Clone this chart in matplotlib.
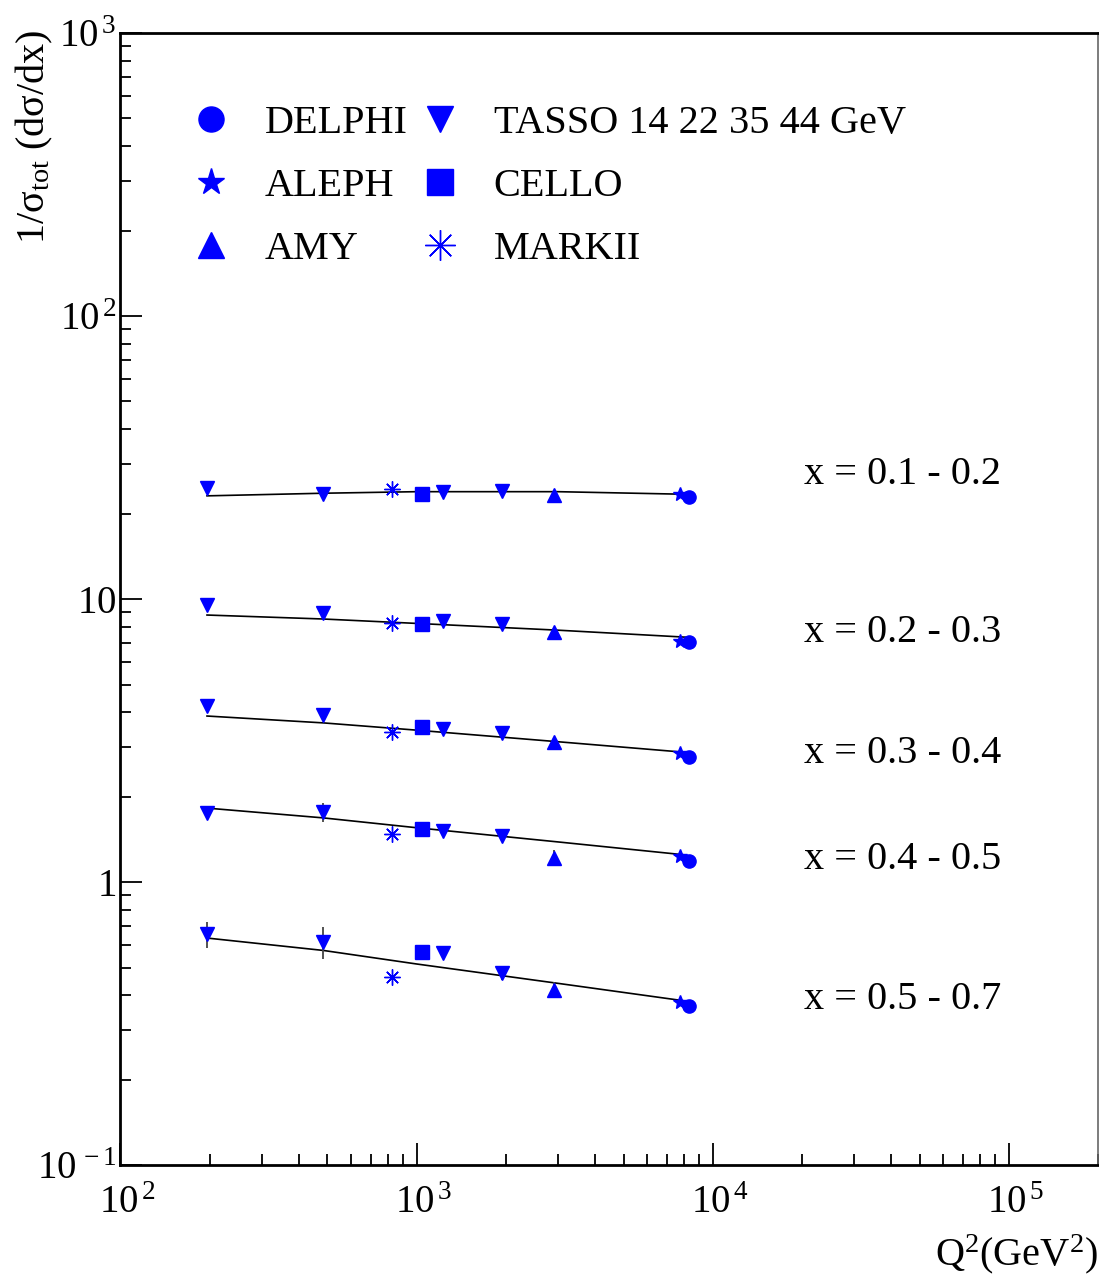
import numpy as np
import matplotlib.pyplot as plt
from matplotlib.ticker import FuncFormatter, LogLocator, NullFormatter

plt.rcParams['font.family'] = ['Liberation Serif', 'DejaVu Serif']
plt.rcParams['mathtext.fontset'] = 'custom'
plt.rcParams['mathtext.rm'] = 'Liberation Serif'
plt.rcParams['mathtext.it'] = 'Liberation Serif:italic'

# --- Data ---
experiments = ['DELPHI', 'ALEPH', 'AMY', 'TASSO 14 22 35 44 GeV', 'CELLO', 'MARKII']
bin_labels = ['x = 0.1 - 0.2', 'x = 0.2 - 0.3', 'x = 0.3 - 0.4', 'x = 0.4 - 0.5', 'x = 0.5 - 0.7']
label_y = [27.5, 7.66, 2.86, 1.20, 0.387]

q2_delphi = [8300]
q2_aleph  = [7730]
q2_amy    = [2920]
q2_tasso  = [196, 484, 1225, 1936]
q2_cello  = [1040]
q2_markii = [824]

# one row per x bin
delphi = [[23.0], [7.06], [2.77], [1.19], [0.366]]
aleph  = [[23.5], [7.11], [2.86], [1.24], [0.378]]
amy    = [[23.3], [7.66], [3.13], [1.22], [0.417]]
tasso  = [[24.7, 23.5, 23.9, 24.1],
          [9.54, 8.94, 8.38, 8.18],
          [4.20, 3.90, 3.48, 3.37],
          [1.76, 1.77, 1.52, 1.46],
          [0.657, 0.616, 0.562, 0.478]]
cello  = [[23.5], [8.18], [3.54], [1.54], [0.567]]
markii = [[24.5], [8.25], [3.40], [1.48], [0.463]]

# error bars (only where visible)
tasso_err = [[0, 0, 0, 0],
             [0, 0, 0, 0],
             [0, 0.05, 0, 0],
             [0.05, 0.13, 0, 0],
             [0.07, 0.08, 0, 0.025]]
amy_err = [[0], [0], [0], [0.08], [0.028]]

# fitted curves
fit_q2 = [196, 484, 1000, 3000, 8100]
fit_y = [[23.2, 23.7, 24.0, 24.0, 23.5],
         [8.80, 8.52, 8.22, 7.78, 7.35],
         [3.87, 3.66, 3.45, 3.14, 2.88],
         [1.83, 1.69, 1.56, 1.39, 1.25],
         [0.636, 0.575, 0.515, 0.440, 0.381]]

blue = '#0000ff'

fig = plt.figure(figsize=(10.99, 12.75), dpi=100)
ax = fig.add_axes([0.1096, 0.0859, 0.8894, 0.8881])
ax.set_xscale('log')
ax.set_yscale('log')
ax.set_xlim(100, 2e5)
ax.set_ylim(0.1, 1000)

ms = 9.5
for i in range(len(bin_labels)):
    first = (i == 0)
    ax.plot(fit_q2, fit_y[i], color='black', lw=1.2, zorder=2)
    ax.errorbar(q2_tasso, tasso[i], yerr=tasso_err[i], fmt='none',
                ecolor='#444444', elinewidth=1.3, capsize=0, zorder=2.5)
    ax.errorbar(q2_amy, amy[i], yerr=amy_err[i], fmt='none',
                ecolor='#444444', elinewidth=1.3, capsize=0, zorder=2.5)
    ax.plot(q2_tasso, tasso[i], 'v', color=blue, ms=ms, zorder=3,
            label=experiments[3] if first else None)
    ax.plot(q2_amy, amy[i], '^', color=blue, ms=ms, zorder=3,
            label=experiments[2] if first else None)
    ax.plot(q2_cello, cello[i], 's', color=blue, ms=ms, zorder=3,
            label=experiments[4] if first else None)
    ax.plot(q2_markii, markii[i], marker=(8, 2, 0), ls='none', color=blue, ms=ms + 2,
            mew=1.0, zorder=3, label=experiments[5] if first else None)
    ax.plot(q2_aleph, aleph[i], '*', color=blue, ms=ms + 1, zorder=3,
            label=experiments[1] if first else None)
    ax.plot(q2_delphi, delphi[i], 'o', color=blue, ms=ms, zorder=4,
            label=experiments[0] if first else None)
    ax.text(0.699, label_y[i], bin_labels[i], transform=ax.get_yaxis_transform(),
            fontsize=29, va='center', ha='left')

# legend, DELPHI/ALEPH/AMY in first column
h, l = ax.get_legend_handles_labels()
order = [l.index(e) for e in experiments]
ax.legend([h[k] for k in order], [l[k] for k in order], ncol=2, frameon=False,
          loc='upper left', bbox_to_anchor=(0.0717, 0.937), borderaxespad=0,
          borderpad=0, fontsize=29, markerscale=1.9, handlelength=1.0,
          handletextpad=0.84, columnspacing=0.3, labelspacing=0.65)


def yfmt(v, pos):
    e = int(round(np.log10(v)))
    if e == 0:
        return r'$\mathregular{1\enspace}$'
    if e == 1:
        return r'$\mathregular{10\enspace}$'
    return r'$\mathregular{10^{\,%d}}$' % e


def xfmt(v, pos):
    e = int(round(np.log10(v)))
    return r'$\mathregular{\enspace 10^{\,%d}}$' % e


ax.xaxis.set_major_locator(LogLocator(base=10, numticks=10))
ax.yaxis.set_major_locator(LogLocator(base=10, numticks=10))
ax.xaxis.set_major_formatter(FuncFormatter(xfmt))
ax.yaxis.set_major_formatter(FuncFormatter(yfmt))
ax.xaxis.set_minor_formatter(NullFormatter())
ax.yaxis.set_minor_formatter(NullFormatter())
ax.tick_params(which='both', direction='in', top=False, right=False, labelsize=28, width=1.3)
ax.tick_params(which='major', length=16)
ax.tick_params(which='minor', length=8)
ax.tick_params(axis='x', which='major', pad=14)
ax.tick_params(axis='y', which='major', pad=3)
for s in ['left', 'bottom', 'top']:
    ax.spines[s].set_linewidth(2)
ax.spines['right'].set_linewidth(1.2)
ax.spines['right'].set_color('#666666')

ax.set_ylabel(r'1/$\mathregular{\sigma_{tot}}$ (d$\mathregular{\sigma}$/dx)', fontsize=29)
ax.yaxis.set_label_coords(-0.088, 1.003)
ax.yaxis.label.set_ha('right')
ax.yaxis.label.set_va('center')
ax.set_xlabel(r'$\mathregular{Q^{2}}$(GeV$\mathregular{^{2}}$)', fontsize=29)
ax.xaxis.set_label_coords(1.0, -0.059)
ax.xaxis.label.set_ha('right')

fig.savefig('out.png', dpi=100)
